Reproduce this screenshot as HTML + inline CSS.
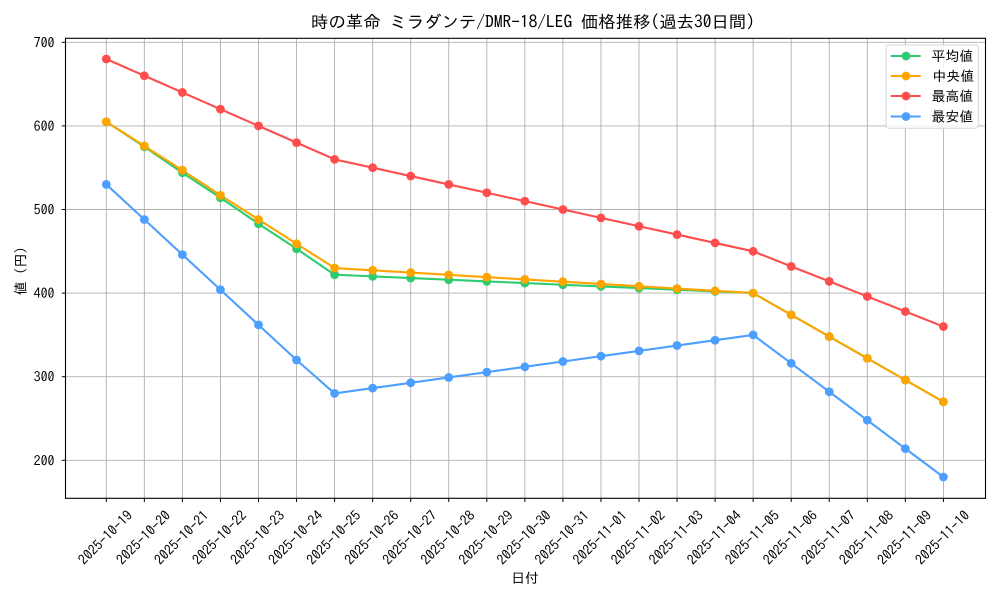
<!DOCTYPE html>
<html>
<head>
<meta charset="utf-8">
<style>
html,body{margin:0;padding:0;background:#fff;}
svg{display:block;}
text{font-family:"IPAGothic","Liberation Sans","Noto Sans CJK JP",sans-serif;fill:#000;}
</style>
</head>
<body>
<svg width="1000" height="600" viewBox="0 0 1000 600" xmlns="http://www.w3.org/2000/svg">
<rect width="1000" height="600" fill="#fff"/>
<!-- grid -->
<g stroke="#b0b0b0" stroke-width="0.9" fill="none">
<line x1="106.3" y1="38.3" x2="106.3" y2="498.3"/>
<line x1="144.35" y1="38.3" x2="144.35" y2="498.3"/>
<line x1="182.4" y1="38.3" x2="182.4" y2="498.3"/>
<line x1="220.45" y1="38.3" x2="220.45" y2="498.3"/>
<line x1="258.5" y1="38.3" x2="258.5" y2="498.3"/>
<line x1="296.55" y1="38.3" x2="296.55" y2="498.3"/>
<line x1="334.6" y1="38.3" x2="334.6" y2="498.3"/>
<line x1="372.65" y1="38.3" x2="372.65" y2="498.3"/>
<line x1="410.7" y1="38.3" x2="410.7" y2="498.3"/>
<line x1="448.75" y1="38.3" x2="448.75" y2="498.3"/>
<line x1="486.8" y1="38.3" x2="486.8" y2="498.3"/>
<line x1="524.85" y1="38.3" x2="524.85" y2="498.3"/>
<line x1="562.9" y1="38.3" x2="562.9" y2="498.3"/>
<line x1="600.95" y1="38.3" x2="600.95" y2="498.3"/>
<line x1="639" y1="38.3" x2="639" y2="498.3"/>
<line x1="677.05" y1="38.3" x2="677.05" y2="498.3"/>
<line x1="715.1" y1="38.3" x2="715.1" y2="498.3"/>
<line x1="753.15" y1="38.3" x2="753.15" y2="498.3"/>
<line x1="791.2" y1="38.3" x2="791.2" y2="498.3"/>
<line x1="829.25" y1="38.3" x2="829.25" y2="498.3"/>
<line x1="867.3" y1="38.3" x2="867.3" y2="498.3"/>
<line x1="905.35" y1="38.3" x2="905.35" y2="498.3"/>
<line x1="943.4" y1="38.3" x2="943.4" y2="498.3"/>
<line x1="65.5" y1="42.3" x2="985.5" y2="42.3"/>
<line x1="65.5" y1="125.9" x2="985.5" y2="125.9"/>
<line x1="65.5" y1="209.5" x2="985.5" y2="209.5"/>
<line x1="65.5" y1="293.1" x2="985.5" y2="293.1"/>
<line x1="65.5" y1="376.7" x2="985.5" y2="376.7"/>
<line x1="65.5" y1="460.3" x2="985.5" y2="460.3"/>
</g>
<!-- series -->
<g fill="none" stroke-width="2.1" stroke-linejoin="round" stroke-linecap="round">
<polyline stroke="#2ecc71" points="106.3,121.72 144.35,146.8 182.4,172.72 220.45,197.8 258.5,223.71 296.55,248.79 334.6,274.71 372.65,276.38 410.7,278.05 448.75,279.72 486.8,281.4 524.85,283.07 562.9,284.74 600.95,286.41 639,288.08 677.05,289.76 715.1,291.43 753.15,293.1 791.2,314.84 829.25,336.57 867.3,358.31 905.35,380.04 943.4,401.78"/>
<polyline stroke="#ffa500" points="106.3,121.72 144.35,145.96 182.4,170.21 220.45,195.29 258.5,219.53 296.55,243.78 334.6,268.02 372.65,270.3 410.7,272.58 448.75,274.86 486.8,277.14 524.85,279.42 562.9,281.7 600.95,283.98 639,286.26 677.05,288.54 715.1,290.82 753.15,293.1 791.2,314.84 829.25,336.57 867.3,358.31 905.35,380.04 943.4,401.78"/>
<polyline stroke="#ff4d4d" points="106.3,59.02 144.35,75.74 182.4,92.46 220.45,109.18 258.5,125.9 296.55,142.62 334.6,159.34 372.65,167.7 410.7,176.06 448.75,184.42 486.8,192.78 524.85,201.14 562.9,209.5 600.95,217.86 639,226.22 677.05,234.58 715.1,242.94 753.15,251.3 791.2,266.35 829.25,281.4 867.3,296.44 905.35,311.49 943.4,326.54"/>
<polyline stroke="#4d9fff" points="106.3,184.42 144.35,219.53 182.4,254.64 220.45,289.76 258.5,324.87 296.55,359.98 334.6,393.42 372.65,388.1 410.7,382.78 448.75,377.46 486.8,372.14 524.85,366.82 562.9,361.5 600.95,356.18 639,350.86 677.05,345.54 715.1,340.22 753.15,334.9 791.2,363.32 829.25,391.75 867.3,420.17 905.35,448.6 943.4,477.02"/>
</g>
<g fill="#2ecc71">
<circle cx="106.3" cy="121.72" r="4.4"/><circle cx="144.35" cy="146.8" r="4.4"/><circle cx="182.4" cy="172.72" r="4.4"/><circle cx="220.45" cy="197.8" r="4.4"/><circle cx="258.5" cy="223.71" r="4.4"/><circle cx="296.55" cy="248.79" r="4.4"/><circle cx="334.6" cy="274.71" r="4.4"/><circle cx="372.65" cy="276.38" r="4.4"/><circle cx="410.7" cy="278.05" r="4.4"/><circle cx="448.75" cy="279.72" r="4.4"/><circle cx="486.8" cy="281.4" r="4.4"/><circle cx="524.85" cy="283.07" r="4.4"/><circle cx="562.9" cy="284.74" r="4.4"/><circle cx="600.95" cy="286.41" r="4.4"/><circle cx="639" cy="288.08" r="4.4"/><circle cx="677.05" cy="289.76" r="4.4"/><circle cx="715.1" cy="291.43" r="4.4"/><circle cx="753.15" cy="293.1" r="4.4"/><circle cx="791.2" cy="314.84" r="4.4"/><circle cx="829.25" cy="336.57" r="4.4"/><circle cx="867.3" cy="358.31" r="4.4"/><circle cx="905.35" cy="380.04" r="4.4"/><circle cx="943.4" cy="401.78" r="4.4"/>
</g>
<g fill="#ffa500">
<circle cx="106.3" cy="121.72" r="4.4"/><circle cx="144.35" cy="145.96" r="4.4"/><circle cx="182.4" cy="170.21" r="4.4"/><circle cx="220.45" cy="195.29" r="4.4"/><circle cx="258.5" cy="219.53" r="4.4"/><circle cx="296.55" cy="243.78" r="4.4"/><circle cx="334.6" cy="268.02" r="4.4"/><circle cx="372.65" cy="270.3" r="4.4"/><circle cx="410.7" cy="272.58" r="4.4"/><circle cx="448.75" cy="274.86" r="4.4"/><circle cx="486.8" cy="277.14" r="4.4"/><circle cx="524.85" cy="279.42" r="4.4"/><circle cx="562.9" cy="281.7" r="4.4"/><circle cx="600.95" cy="283.98" r="4.4"/><circle cx="639" cy="286.26" r="4.4"/><circle cx="677.05" cy="288.54" r="4.4"/><circle cx="715.1" cy="290.82" r="4.4"/><circle cx="753.15" cy="293.1" r="4.4"/><circle cx="791.2" cy="314.84" r="4.4"/><circle cx="829.25" cy="336.57" r="4.4"/><circle cx="867.3" cy="358.31" r="4.4"/><circle cx="905.35" cy="380.04" r="4.4"/><circle cx="943.4" cy="401.78" r="4.4"/>
</g>
<g fill="#ff4d4d">
<circle cx="106.3" cy="59.02" r="4.4"/><circle cx="144.35" cy="75.74" r="4.4"/><circle cx="182.4" cy="92.46" r="4.4"/><circle cx="220.45" cy="109.18" r="4.4"/><circle cx="258.5" cy="125.9" r="4.4"/><circle cx="296.55" cy="142.62" r="4.4"/><circle cx="334.6" cy="159.34" r="4.4"/><circle cx="372.65" cy="167.7" r="4.4"/><circle cx="410.7" cy="176.06" r="4.4"/><circle cx="448.75" cy="184.42" r="4.4"/><circle cx="486.8" cy="192.78" r="4.4"/><circle cx="524.85" cy="201.14" r="4.4"/><circle cx="562.9" cy="209.5" r="4.4"/><circle cx="600.95" cy="217.86" r="4.4"/><circle cx="639" cy="226.22" r="4.4"/><circle cx="677.05" cy="234.58" r="4.4"/><circle cx="715.1" cy="242.94" r="4.4"/><circle cx="753.15" cy="251.3" r="4.4"/><circle cx="791.2" cy="266.35" r="4.4"/><circle cx="829.25" cy="281.4" r="4.4"/><circle cx="867.3" cy="296.44" r="4.4"/><circle cx="905.35" cy="311.49" r="4.4"/><circle cx="943.4" cy="326.54" r="4.4"/>
</g>
<g fill="#4d9fff">
<circle cx="106.3" cy="184.42" r="4.4"/><circle cx="144.35" cy="219.53" r="4.4"/><circle cx="182.4" cy="254.64" r="4.4"/><circle cx="220.45" cy="289.76" r="4.4"/><circle cx="258.5" cy="324.87" r="4.4"/><circle cx="296.55" cy="359.98" r="4.4"/><circle cx="334.6" cy="393.42" r="4.4"/><circle cx="372.65" cy="388.1" r="4.4"/><circle cx="410.7" cy="382.78" r="4.4"/><circle cx="448.75" cy="377.46" r="4.4"/><circle cx="486.8" cy="372.14" r="4.4"/><circle cx="524.85" cy="366.82" r="4.4"/><circle cx="562.9" cy="361.5" r="4.4"/><circle cx="600.95" cy="356.18" r="4.4"/><circle cx="639" cy="350.86" r="4.4"/><circle cx="677.05" cy="345.54" r="4.4"/><circle cx="715.1" cy="340.22" r="4.4"/><circle cx="753.15" cy="334.9" r="4.4"/><circle cx="791.2" cy="363.32" r="4.4"/><circle cx="829.25" cy="391.75" r="4.4"/><circle cx="867.3" cy="420.17" r="4.4"/><circle cx="905.35" cy="448.6" r="4.4"/><circle cx="943.4" cy="477.02" r="4.4"/>
</g>
<!-- axes frame -->
<rect x="65.5" y="38.3" width="920" height="460" fill="none" stroke="#000" stroke-width="1.1"/>
<!-- ticks -->
<g stroke="#000" stroke-width="1">
<line x1="61.8" y1="42.3" x2="65.5" y2="42.3"/>
<line x1="61.8" y1="125.9" x2="65.5" y2="125.9"/>
<line x1="61.8" y1="209.5" x2="65.5" y2="209.5"/>
<line x1="61.8" y1="293.1" x2="65.5" y2="293.1"/>
<line x1="61.8" y1="376.7" x2="65.5" y2="376.7"/>
<line x1="61.8" y1="460.3" x2="65.5" y2="460.3"/>
<line x1="106.3" y1="498.3" x2="106.3" y2="502"/>
<line x1="144.35" y1="498.3" x2="144.35" y2="502"/>
<line x1="182.4" y1="498.3" x2="182.4" y2="502"/>
<line x1="220.45" y1="498.3" x2="220.45" y2="502"/>
<line x1="258.5" y1="498.3" x2="258.5" y2="502"/>
<line x1="296.55" y1="498.3" x2="296.55" y2="502"/>
<line x1="334.6" y1="498.3" x2="334.6" y2="502"/>
<line x1="372.65" y1="498.3" x2="372.65" y2="502"/>
<line x1="410.7" y1="498.3" x2="410.7" y2="502"/>
<line x1="448.75" y1="498.3" x2="448.75" y2="502"/>
<line x1="486.8" y1="498.3" x2="486.8" y2="502"/>
<line x1="524.85" y1="498.3" x2="524.85" y2="502"/>
<line x1="562.9" y1="498.3" x2="562.9" y2="502"/>
<line x1="600.95" y1="498.3" x2="600.95" y2="502"/>
<line x1="639" y1="498.3" x2="639" y2="502"/>
<line x1="677.05" y1="498.3" x2="677.05" y2="502"/>
<line x1="715.1" y1="498.3" x2="715.1" y2="502"/>
<line x1="753.15" y1="498.3" x2="753.15" y2="502"/>
<line x1="791.2" y1="498.3" x2="791.2" y2="502"/>
<line x1="829.25" y1="498.3" x2="829.25" y2="502"/>
<line x1="867.3" y1="498.3" x2="867.3" y2="502"/>
<line x1="905.35" y1="498.3" x2="905.35" y2="502"/>
<line x1="943.4" y1="498.3" x2="943.4" y2="502"/>
</g>
<!-- y tick labels -->
<g font-size="13.9" text-anchor="end">
<text x="54.5" y="47.3">700</text>
<text x="54.5" y="130.9">600</text>
<text x="54.5" y="214.5">500</text>
<text x="54.5" y="298.1">400</text>
<text x="54.5" y="381.7">300</text>
<text x="54.5" y="465.3">200</text>
</g>
<!-- x tick labels -->
<g font-size="13.9" text-anchor="middle">
<text transform="translate(105.3,537.5) rotate(-45)" y="5">2025-10-19</text>
<text transform="translate(143.35,537.5) rotate(-45)" y="5">2025-10-20</text>
<text transform="translate(181.4,537.5) rotate(-45)" y="5">2025-10-21</text>
<text transform="translate(219.45,537.5) rotate(-45)" y="5">2025-10-22</text>
<text transform="translate(257.5,537.5) rotate(-45)" y="5">2025-10-23</text>
<text transform="translate(295.55,537.5) rotate(-45)" y="5">2025-10-24</text>
<text transform="translate(333.6,537.5) rotate(-45)" y="5">2025-10-25</text>
<text transform="translate(371.65,537.5) rotate(-45)" y="5">2025-10-26</text>
<text transform="translate(409.7,537.5) rotate(-45)" y="5">2025-10-27</text>
<text transform="translate(447.75,537.5) rotate(-45)" y="5">2025-10-28</text>
<text transform="translate(485.8,537.5) rotate(-45)" y="5">2025-10-29</text>
<text transform="translate(523.85,537.5) rotate(-45)" y="5">2025-10-30</text>
<text transform="translate(561.9,537.5) rotate(-45)" y="5">2025-10-31</text>
<text transform="translate(599.95,537.5) rotate(-45)" y="5">2025-11-01</text>
<text transform="translate(638,537.5) rotate(-45)" y="5">2025-11-02</text>
<text transform="translate(676.05,537.5) rotate(-45)" y="5">2025-11-03</text>
<text transform="translate(714.1,537.5) rotate(-45)" y="5">2025-11-04</text>
<text transform="translate(752.15,537.5) rotate(-45)" y="5">2025-11-05</text>
<text transform="translate(790.2,537.5) rotate(-45)" y="5">2025-11-06</text>
<text transform="translate(828.25,537.5) rotate(-45)" y="5">2025-11-07</text>
<text transform="translate(866.3,537.5) rotate(-45)" y="5">2025-11-08</text>
<text transform="translate(904.35,537.5) rotate(-45)" y="5">2025-11-09</text>
<text transform="translate(942.4,537.5) rotate(-45)" y="5">2025-11-10</text>
</g>
<!-- axis labels -->
<text x="525" y="583" font-size="13.9" text-anchor="middle">日付</text>
<text transform="translate(25.5,271) rotate(-90)" font-size="13.9" text-anchor="middle">値 (円)</text>
<!-- title -->
<text x="311" y="28" font-size="17" textLength="444" lengthAdjust="spacingAndGlyphs">時の革命 ミラダンテ/DMR-18/LEG 価格推移(過去30日間)</text>
<!-- legend -->
<rect x="886" y="45" width="92.3" height="83.3" rx="2.5" fill="#fff" fill-opacity="0.85" stroke="#d6d6d6" stroke-width="1"/>
<g stroke-width="2.1">
<line x1="890.7" y1="56" x2="920.7" y2="56" stroke="#2ecc71"/>
<line x1="890.7" y1="76" x2="920.7" y2="76" stroke="#ffa500"/>
<line x1="890.7" y1="96" x2="920.7" y2="96" stroke="#ff4d4d"/>
<line x1="890.7" y1="116.5" x2="920.7" y2="116.5" stroke="#4d9fff"/>
</g>
<circle cx="906" cy="56" r="4.4" fill="#2ecc71"/>
<circle cx="906" cy="76" r="4.4" fill="#ffa500"/>
<circle cx="906" cy="96" r="4.4" fill="#ff4d4d"/>
<circle cx="906" cy="116.5" r="4.4" fill="#4d9fff"/>
<g font-size="13.9">
<text x="931.5" y="61">平均値</text>
<text x="932.5" y="81">中央値</text>
<text x="931.5" y="101">最高値</text>
<text x="931.5" y="121.5">最安値</text>
</g>
</svg>
</body>
</html>
